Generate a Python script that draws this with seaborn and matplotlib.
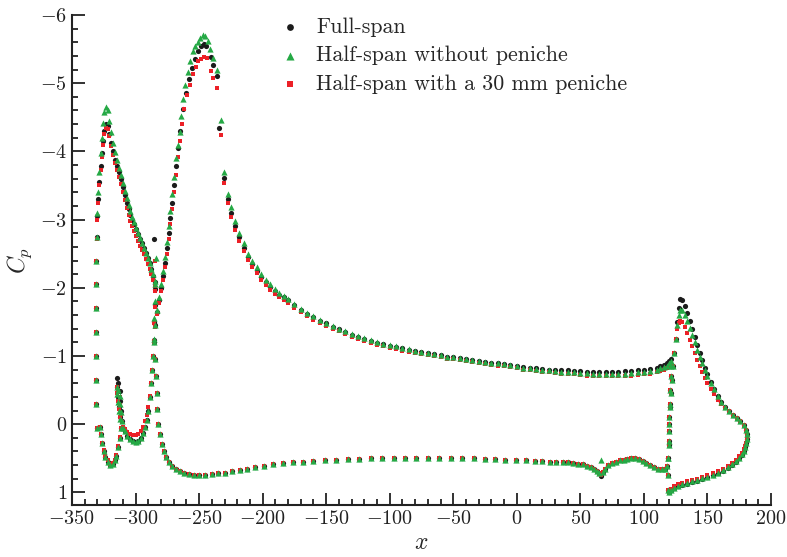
import matplotlib
matplotlib.use("Agg")
import matplotlib.pyplot as plt
import seaborn as sns
import numpy as np
import pandas as pd
from matplotlib.ticker import MultipleLocator

# === Data (x in mm, Cp) ===
series_names = ["Full-span", "Half-span without peniche", "Half-span with a 30 mm peniche"]
series_colors = ["#1b1b1b", "#25a945", "#ec2027"]
series_markers = ["o", "^", "s"]
series_sizes = [14, 20, 9]

# slat suction side
slat_up_x = [-330.0, -330.8, -331.2, -331.3, -331.3, -331.3, -331.2, -331.0, -330.5, -330.0,
             -329.3, -328.5, -327.5, -326.5, -325.5, -324.5, -323.4, -322.0, -320.5, -319.0,
             -317.5, -316.0, -314.5, -313.0, -311.5, -310.0, -308.5, -307.0, -305.5, -304.0,
             -302.5, -301.0, -299.5, -298.0, -296.5, -295.0, -293.5, -292.0, -290.5, -289.0,
             -287.5, -286.0, -285.0]
slat_up_full = [0.05, -0.3, -0.65, -1.0, -1.35, -1.7, -2.05, -2.4, -2.75, -3.05,
                -3.3, -3.55, -3.78, -3.97, -4.15, -4.3, -4.4, -4.37, -4.25, -4.12,
                -4.0, -3.88, -3.78, -3.7, -3.6, -3.48, -3.36, -3.25, -3.15, -3.07,
                -3.0, -2.93, -2.86, -2.79, -2.72, -2.65, -2.58, -2.51, -2.44, -2.36,
                -2.27, -2.18, -2.08]
slat_up_half = [0.05, -0.3, -0.65, -1.0, -1.35, -1.7, -2.05, -2.4, -2.75, -3.1,
                -3.4, -3.7, -3.98, -4.2, -4.42, -4.58, -4.65, -4.6, -4.45, -4.28,
                -4.13, -3.99, -3.87, -3.76, -3.65, -3.53, -3.42, -3.31, -3.21, -3.12,
                -3.04, -2.96, -2.88, -2.8, -2.73, -2.66, -2.59, -2.51, -2.44, -2.36,
                -2.28, -2.2, -2.1]
slat_up_pen = [0.05, -0.3, -0.65, -1.0, -1.35, -1.7, -2.05, -2.4, -2.72, -3.0,
               -3.25, -3.5, -3.72, -3.92, -4.1, -4.25, -4.34, -4.33, -4.22, -4.08,
               -3.95, -3.83, -3.72, -3.62, -3.52, -3.4, -3.28, -3.17, -3.07, -2.98,
               -2.9, -2.83, -2.76, -2.69, -2.62, -2.56, -2.49, -2.42, -2.35, -2.28,
               -2.2, -2.12, -2.02]

# slat trailing edge point
slat_te_x = [-285.5, -284.0, -285.0]
slat_te_cp = [-2.72, -2.44, -2.4]

# slat cove / pressure side
cove_x = [-328.0, -327.5, -326.5, -325.0, -324.0, -322.0, -320.0, -318.0, -316.5, -315.0,
          -313.5, -312.5, -311.5, -312.0, -313.0, -314.0, -314.5, -314.5, -313.5, -312.5,
          -312.0, -311.5, -310.5, -309.5, -308.5, -306.5, -304.5, -302.0, -300.0, -298.0,
          -296.0, -294.0, -292.5, -291.0, -290.0, -289.0, -288.0, -287.0, -286.3, -285.7,
          -285.2, -284.8, -284.4]
cove_full = [0.04, 0.15, 0.28, 0.4, 0.48, 0.55, 0.6, 0.58, 0.53, 0.46,
             0.33, 0.2, 0.06, -0.1, -0.25, -0.4, -0.55, -0.67, -0.6, -0.48,
             -0.34, -0.2, -0.05, 0.05, 0.1, 0.17, 0.22, 0.25, 0.26, 0.24,
             0.2, 0.13, 0.04, -0.06, -0.2, -0.4, -0.6, -0.8, -1.0, -1.23,
             -1.5, -1.75, -1.98]
cove_half = [0.04, 0.15, 0.28, 0.4, 0.48, 0.55, 0.6, 0.58, 0.53, 0.46,
             0.33, 0.2, 0.06, -0.08, -0.2, -0.32, -0.44, -0.54, -0.5, -0.42,
             -0.3, -0.18, -0.05, 0.05, 0.1, 0.17, 0.22, 0.25, 0.26, 0.24,
             0.2, 0.13, 0.04, -0.06, -0.2, -0.4, -0.6, -0.8, -1.0, -1.25,
             -1.55, -1.8, -2.05]
cove_pen = [0.04, 0.15, 0.27, 0.38, 0.46, 0.53, 0.58, 0.57, 0.52, 0.45,
            0.32, 0.19, 0.05, -0.1, -0.22, -0.34, -0.45, -0.55, -0.5, -0.4,
            -0.28, -0.15, -0.03, 0.04, 0.07, 0.11, 0.14, 0.16, 0.16, 0.14,
            0.1, 0.04, -0.04, -0.13, -0.25, -0.42, -0.6, -0.8, -1.0, -1.22,
            -1.48, -1.72, -1.95]

# main element, suction peak region
main_le_x_full = [-285.5, -284.5, -283.0, -281.5, -280.0, -278.5, -277.0, -275.5, -274.0, -272.5,
                  -271.0, -269.5, -268.0, -266.5, -265.0, -263.0, -260.5, -258.0, -255.5, -253.0,
                  -251.0, -248.5, -246.5, -244.5, -241.0, -239.0, -236.0, -234.0, -230.5, -227.5,
                  -224.5, -221.5, -218.5, -215.0, -211.5, -208.0, -204.5, -201.0, -197.5, -194.0,
                  -190.5, -187.0, -183.5]
main_le_full = [-1.2, -1.45, -1.65, -1.82, -2.0, -2.18, -2.37, -2.58, -2.8, -3.02,
                -3.25, -3.5, -3.78, -4.05, -4.3, -4.62, -4.86, -5.06, -5.22, -5.36,
                -5.47, -5.55, -5.58, -5.55, -5.38, -5.27, -5.1, -4.34, -3.61, -3.3,
                -3.1, -2.91, -2.74, -2.59, -2.45, -2.35, -2.25, -2.16, -2.08, -2.01,
                -1.95, -1.9, -1.86]
main_le_x_half = [-285.5, -284.5, -283.0, -281.5, -280.0, -278.5, -277.0, -275.5, -274.0, -272.5,
                  -271.0, -269.5, -268.0, -266.5, -265.0, -264.0, -263.0, -261.0, -259.0, -257.0,
                  -255.0, -253.0, -251.0, -249.0, -247.0, -245.0, -243.0, -241.5, -239.0, -236.0,
                  -233.0, -230.5, -227.5, -224.5, -221.5, -218.5, -215.0, -211.5, -208.0, -204.5,
                  -201.0, -197.5, -194.0, -190.5, -187.0, -183.5]
main_le_half = [-1.2, -1.45, -1.68, -1.87, -2.06, -2.25, -2.45, -2.67, -2.9, -3.13,
                -3.37, -3.62, -3.9, -4.1, -4.28, -4.52, -4.77, -4.98, -5.17, -5.33,
                -5.47, -5.55, -5.6, -5.67, -5.7, -5.69, -5.62, -5.5, -5.37, -5.2,
                -4.46, -3.7, -3.38, -3.18, -2.98, -2.8, -2.65, -2.5, -2.4, -2.3,
                -2.2, -2.12, -2.05, -1.98, -1.93, -1.88]
main_le_x_pen = [-285.5, -284.5, -283.0, -281.5, -280.0, -278.5, -277.0, -275.5, -274.0, -272.5,
                 -271.0, -269.5, -268.0, -266.5, -265.0, -263.5, -261.5, -259.5, -257.0, -254.5,
                 -252.5, -250.5, -248.5, -246.5, -244.0, -241.0, -239.0, -236.0, -233.0, -230.5,
                 -227.5, -224.5, -221.5, -218.5, -215.0, -211.5, -208.0, -204.5, -201.0, -197.5,
                 -194.0, -190.5, -187.0, -183.5]
main_le_pen = [-1.2, -1.42, -1.62, -1.78, -1.95, -2.12, -2.3, -2.5, -2.72, -2.94,
               -3.16, -3.4, -3.65, -3.92, -4.15, -4.4, -4.62, -4.82, -4.98, -5.13,
               -5.24, -5.32, -5.36, -5.38, -5.37, -5.18, -5.07, -4.93, -4.24, -3.54,
               -3.24, -3.04, -2.85, -2.68, -2.54, -2.41, -2.31, -2.21, -2.12, -2.04,
               -1.97, -1.91, -1.86, -1.82]

# main element suction side, mid-chord to trailing edge
main_up_x = [-180, -175, -170, -165, -160, -155, -150, -145, -140, -135,
             -130, -125, -120, -115, -110, -105, -100, -95, -90, -85,
             -80, -75, -70, -65, -60, -55, -50, -45, -40, -35,
             -30, -25, -20, -15, -10, -5, 0, 5, 10, 15,
             20, 25, 30, 35, 40, 45, 50, 55, 60, 65,
             70, 75, 80, 85, 90, 95, 100, 105, 110, 113,
             116, 118, 120, 121.5]
main_up_full = [-1.82, -1.75, -1.68, -1.62, -1.57, -1.52, -1.48, -1.43, -1.39, -1.35,
                -1.31, -1.28, -1.25, -1.22, -1.19, -1.17, -1.15, -1.13, -1.11, -1.09,
                -1.08, -1.06, -1.04, -1.03, -1.01, -0.99, -0.98, -0.97, -0.95, -0.94,
                -0.92, -0.91, -0.9, -0.89, -0.88, -0.87, -0.86, -0.84, -0.83, -0.82,
                -0.81, -0.8, -0.8, -0.79, -0.79, -0.78, -0.78, -0.77, -0.77, -0.77,
                -0.77, -0.77, -0.77, -0.78, -0.78, -0.79, -0.8, -0.81, -0.83, -0.85,
                -0.87, -0.89, -0.92, -0.96]
main_up_half = [-1.84, -1.76, -1.69, -1.63, -1.58, -1.53, -1.49, -1.44, -1.4, -1.36,
                -1.32, -1.29, -1.26, -1.23, -1.2, -1.18, -1.16, -1.14, -1.12, -1.1,
                -1.08, -1.06, -1.04, -1.03, -1.01, -0.99, -0.98, -0.97, -0.95, -0.94,
                -0.92, -0.91, -0.9, -0.89, -0.88, -0.87, -0.85, -0.83, -0.82, -0.81,
                -0.8, -0.79, -0.78, -0.77, -0.77, -0.76, -0.75, -0.75, -0.74, -0.74,
                -0.74, -0.74, -0.74, -0.74, -0.75, -0.76, -0.77, -0.78, -0.8, -0.82,
                -0.84, -0.86, -0.89, -0.93]
main_up_pen = [-1.78, -1.71, -1.64, -1.58, -1.53, -1.48, -1.44, -1.4, -1.36, -1.32,
               -1.28, -1.25, -1.22, -1.19, -1.16, -1.14, -1.12, -1.1, -1.08, -1.06,
               -1.05, -1.03, -1.01, -1.0, -0.98, -0.96, -0.95, -0.94, -0.92, -0.91,
               -0.89, -0.88, -0.87, -0.86, -0.85, -0.84, -0.82, -0.8, -0.79, -0.78,
               -0.77, -0.76, -0.75, -0.74, -0.74, -0.73, -0.72, -0.71, -0.71, -0.7,
               -0.7, -0.7, -0.7, -0.71, -0.71, -0.72, -0.73, -0.74, -0.76, -0.78,
               -0.8, -0.83, -0.86, -0.9]

# main element pressure side (same for the three runs)
main_low_x = [-284.5, -284.0, -283.5, -283.0, -282.0, -281.0, -279.5, -278.0, -276.0, -274.0,
              -271.5, -268.5, -265.0, -261.5, -258.0, -254.0, -250.0, -245.0, -240.0, -235.0,
              -230.0, -224.0, -218.0, -212.0, -206.0, -199.0, -192.0, -184.0, -176.0, -168.0,
              -160.0, -151.0, -142.0, -133.0, -124.0, -115.0, -106.0, -97.0, -88.0, -79.0,
              -70.0, -61.0, -52.0, -43.0, -34.0, -25.0, -17.0, -9.0, -1.0, 7.0,
              14.0, 20.0, 26.0, 31.0, 36.0, 40.0, 44.0, 48.0, 52.0, 55.0,
              58.0, 61.0, 63.0, 64.5, 67.5, 69.0, 72.0, 75.0, 78.0, 81.0,
              84.0, 87.0, 90.0, 93.0, 96.0, 99.0, 102.0, 105.0, 108.0, 111.0,
              114.0, 116.5, 118.0, 119.0, 119.5, 120.0, 120.0, 120.5, 120.5, 121.0,
              121.5]
main_low_cp = [-0.95, -0.7, -0.45, -0.22, 0.0, 0.15, 0.29, 0.39, 0.48, 0.55,
               0.61, 0.66, 0.69, 0.71, 0.73, 0.74, 0.74, 0.74, 0.73, 0.72,
               0.71, 0.69, 0.67, 0.65, 0.63, 0.61, 0.59, 0.57, 0.56, 0.55,
               0.54, 0.53, 0.52, 0.51, 0.51, 0.5, 0.5, 0.49, 0.49, 0.49,
               0.49, 0.49, 0.49, 0.5, 0.5, 0.51, 0.51, 0.52, 0.52, 0.53,
               0.54, 0.54, 0.55, 0.55, 0.56, 0.56, 0.57, 0.58, 0.59, 0.61,
               0.63, 0.65, 0.68, 0.71, 0.7, 0.65, 0.6, 0.57, 0.55, 0.53,
               0.52, 0.51, 0.5, 0.5, 0.51, 0.54, 0.57, 0.6, 0.63, 0.65,
               0.66, 0.66, 0.62, 0.5, 0.3, 0.1, -0.1, -0.3, -0.5, -0.7,
               -0.85]
# pressure tap kink near x = 66
kink_x = [66.0, 66.0, 66.0]
kink_cp = [0.76, 0.53, 0.74]

# flap leading edge rise (shared), then suction side per run
flap_le_x = [119.0, 119.0, 119.3, 119.5, 119.8, 120.3, 121.0, 122.0, 123.0, 124.0, 125.0]
flap_le_cp = [0.97, 0.75, 0.5, 0.25, 0.0, -0.25, -0.45, -0.65, -0.85, -1.05, -1.25]
flap_up_x = [126.0, 127.3, 128.6, 130.0, 132.0, 134.0, 136.0, 138.0, 140.0, 142.0,
             144.0, 146.0, 148.0, 150.0, 152.5, 155.0, 158.0, 161.0, 164.0, 167.0,
             170.0, 173.0, 176.0, 178.5, 180.5]
flap_up_full = [-1.5, -1.7, -1.83, -1.82, -1.73, -1.63, -1.52, -1.4, -1.28, -1.16,
                -1.05, -0.94, -0.83, -0.73, -0.62, -0.52, -0.42, -0.33, -0.25, -0.19,
                -0.14, -0.09, -0.04, 0.01, 0.08]
flap_up_half = [-1.45, -1.6, -1.68, -1.67, -1.6, -1.51, -1.41, -1.31, -1.2, -1.09,
                -0.99, -0.89, -0.79, -0.7, -0.6, -0.51, -0.41, -0.33, -0.25, -0.19,
                -0.14, -0.09, -0.04, 0.01, 0.08]
flap_up_pen = [-1.4, -1.49, -1.52, -1.5, -1.43, -1.34, -1.24, -1.14, -1.04, -0.94,
               -0.85, -0.76, -0.68, -0.6, -0.51, -0.44, -0.36, -0.3, -0.24, -0.19,
               -0.14, -0.09, -0.04, 0.01, 0.08]

# flap pressure side
flap_low_x = [181.0, 180.8, 180.3, 179.5, 178.5, 177.0, 175.0, 172.5, 169.5, 166.0,
              162.0, 158.0, 154.0, 150.0, 146.0, 142.0, 138.0, 134.0, 130.0, 127.0,
              124.0, 121.5, 120.0]
flap_low_full = [0.15, 0.22, 0.28, 0.34, 0.4, 0.45, 0.5, 0.55, 0.6, 0.64,
                 0.68, 0.72, 0.75, 0.78, 0.8, 0.83, 0.85, 0.87, 0.89, 0.91,
                 0.94, 0.97, 1.0]
flap_low_half = [0.15, 0.22, 0.28, 0.33, 0.39, 0.44, 0.49, 0.54, 0.59, 0.63,
                 0.67, 0.71, 0.74, 0.77, 0.79, 0.82, 0.84, 0.86, 0.88, 0.9,
                 0.93, 0.96, 1.0]
flap_low_pen = [0.15, 0.22, 0.27, 0.32, 0.37, 0.42, 0.47, 0.52, 0.57, 0.61,
                0.65, 0.69, 0.72, 0.75, 0.77, 0.8, 0.82, 0.84, 0.86, 0.88,
                0.91, 0.95, 0.99]


def build(i, slat_up, cove, le_x, le, main_up, flap_up, flap_low):
    xs = (slat_up_x + [slat_te_x[i]] + cove_x + le_x + main_up_x + main_low_x
          + [kink_x[i]] + flap_le_x + flap_up_x + flap_low_x)
    ys = (slat_up + [slat_te_cp[i]] + cove + le + main_up + main_low_cp
          + [kink_cp[i]] + flap_le_cp + flap_up + flap_low)
    return pd.DataFrame({"x": xs, "Cp": ys})


frames = [
    build(0, slat_up_full, cove_full, main_le_x_full, main_le_full, main_up_full, flap_up_full, flap_low_full),
    build(1, slat_up_half, cove_half, main_le_x_half, main_le_half, main_up_half, flap_up_half, flap_low_half),
    build(2, slat_up_pen, cove_pen, main_le_x_pen, main_le_pen, main_up_pen, flap_up_pen, flap_low_pen),
]

# === Style ===
sns.set_style("ticks")
plt.rcParams.update({
    "font.family": "serif",
    "font.serif": ["cmr10"],
    "mathtext.fontset": "cm",
    "axes.formatter.use_mathtext": True,
    "axes.linewidth": 1.5,
})

fig = plt.figure(figsize=(7.87, 5.57), dpi=100)
ax = fig.add_axes([72 / 787, 1 - 505 / 557, (771 - 72) / 787, (505 - 15) / 557])

# draw black, red, then green on top
for i in [0, 2, 1]:
    sns.scatterplot(data=frames[i], x="x", y="Cp", ax=ax, color=series_colors[i],
                    marker=series_markers[i], s=series_sizes[i], linewidth=0,
                    label=series_names[i], zorder=3 + (i == 1))

ax.set_xlim(-350, 200)
ax.set_ylim(1.185, -6)
ax.xaxis.set_major_locator(MultipleLocator(50))
ax.xaxis.set_minor_locator(MultipleLocator(10))
ax.yaxis.set_major_locator(MultipleLocator(1))
ax.yaxis.set_minor_locator(MultipleLocator(0.2))
ax.tick_params(which="both", direction="in", width=1.3, labelsize=14.5, colors="#222222")
ax.tick_params(which="major", length=9)
ax.tick_params(which="minor", length=4.5)
sns.despine(ax=ax)
for sp in ["left", "bottom"]:
    ax.spines[sp].set_color("#222222")

ax.set_xlabel("$x$", fontsize=17, labelpad=3)
ax.set_ylabel("$C_p$", fontsize=17, labelpad=4)

handles, labels = ax.get_legend_handles_labels()
order = [labels.index(n) for n in series_names]
ax.legend([handles[k] for k in order], [labels[k] for k in order],
          loc="upper left", bbox_to_anchor=(0.265, 1.035), frameon=False,
          fontsize=15.8, handletextpad=0.6, labelspacing=0.4, markerscale=1.3,
          handlelength=1.2)

fig.savefig("out.png", dpi=100)
plt.close(fig)
